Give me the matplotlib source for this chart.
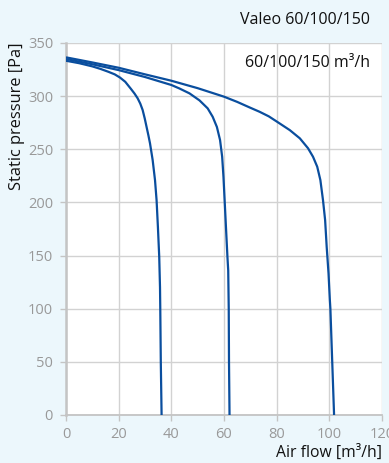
import matplotlib
matplotlib.use("Agg")
import matplotlib.pyplot as plt

plt.rcParams['font.family'] = ['Open Sans', 'DejaVu Sans']

# Curve data (air flow m3/h, static pressure Pa)
flow_60 = [0, 5, 10, 13, 16, 18.5, 20.5, 22.5, 24.6, 26, 27.2, 28.2, 29.1, 29.9, 30.6, 31.3, 31.9, 32.9, 33.8, 34.4, 34.9, 35.4, 35.7, 35.8, 36.0, 36.3]
pres_60 = [333.3, 331, 328, 325.7, 323, 320.5, 317.5, 313.5, 307, 302.5, 298, 293, 287, 279, 271, 263, 255.6, 240, 221, 202, 177, 149, 120, 100, 50, 0]

flow_100 = [0, 10, 20, 30, 40, 43, 46.9, 50.7, 53.8, 55.7, 57.3, 58.5, 59.3, 59.8, 60.3, 60.8, 61.3, 61.6, 61.8, 61.9, 62.1]
pres_100 = [335, 330, 324.5, 318, 310.5, 307.3, 302.6, 296, 288.5, 280.6, 271, 258.7, 243, 224, 199, 174, 149, 136, 100, 50, 0]

flow_150 = [0, 10, 20, 30, 40, 50, 60, 65, 69.7, 73.5, 77, 80.1, 85, 88.8, 91.9, 93.8, 95.4, 96.6, 97.6, 98.4, 99, 99.7, 100.2, 100.4, 101.1, 101.8]
pres_150 = [336.5, 331.7, 326.7, 320.5, 314.5, 307.5, 299.5, 294.6, 289.4, 285.3, 281, 276, 268, 260.3, 251, 243, 233.6, 221, 202, 183.4, 158, 133, 108, 100, 50, 0]

x_ticks = [0, 20, 40, 60, 80, 100, 120]
y_ticks = [0, 50, 100, 150, 200, 250, 300, 350]

bg = '#ECF7FC'
line_color = '#0A4E9E'
grid_color = '#D2D2D2'
tick_color = '#999999'

fig = plt.figure(figsize=(3.89, 4.63), dpi=100, facecolor=bg)
ax = fig.add_axes([66/389, (463-415)/463, 316/389, 372/463])
ax.set_facecolor('white')

for fx, py in [(flow_60, pres_60), (flow_100, pres_100), (flow_150, pres_150)]:
    ax.plot(fx, py, color=line_color, lw=1.6, solid_capstyle='butt', solid_joinstyle='round', zorder=3)

ax.set_xlim(0, 120)
ax.set_ylim(0, 350)
ax.set_xticks(x_ticks)
ax.set_yticks(y_ticks)
ax.grid(True, color=grid_color, lw=1.0, zorder=0)
ax.set_axisbelow(True)

for s in ['top', 'right']:
    ax.spines[s].set_visible(False)
for s in ['left', 'bottom']:
    ax.spines[s].set_color('#C4C4C4')
ax.spines['left'].set_linewidth(1.8)
ax.spines['bottom'].set_linewidth(1.3)

ax.tick_params(axis='both', colors='#C4C4C4', labelcolor=tick_color, labelsize=10.5, length=4.3, width=1.0)
ax.tick_params(axis='y', pad=5)
ax.tick_params(axis='x', pad=4.5)

ax.set_ylabel('Static pressure [Pa]', fontsize=11.8, color='#111111',
              ha='right', va='center', rotation_mode='anchor')
ax.yaxis.set_label_coords(-0.1535, 1.003)
ax.set_xlabel('Air flow [m³/h]', fontsize=11.3, color='#111111')
ax.xaxis.set_label_coords(1.0, -0.102)
ax.xaxis.label.set_horizontalalignment('right')
ax.xaxis.label.set_verticalalignment('center')

fig.text(370/389, 1 - 20.5/463, 'Valeo 60/100/150', ha='right', va='center', fontsize=11.5, color='#111111')
ax.text(0.962, 0.946, '60/100/150 m³/h', transform=ax.transAxes, ha='right', va='center', fontsize=11.5, color='#111111')

fig.savefig('out.png', dpi=100, facecolor=bg)
